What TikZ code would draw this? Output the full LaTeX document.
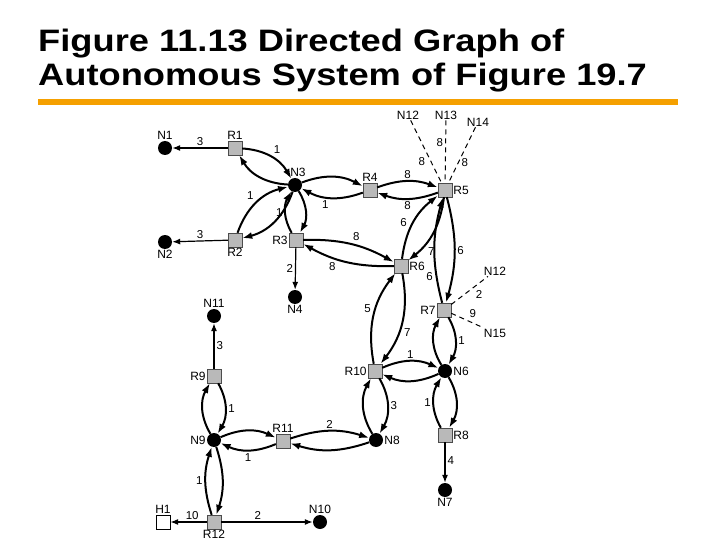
\documentclass[tikz,border=0pt]{standalone}
\usepackage{fontspec}
\setmainfont{Liberation Sans}
\usetikzlibrary{positioning,arrows.meta}
\definecolor{barorange}{RGB}{245,160,0}
\definecolor{rtrgray}{RGB}{185,185,185}

\begin{document}
\begin{tikzpicture}[x=1pt,y=-1pt,
	rtr/.style={rectangle,draw=black!70,fill=rtrgray,minimum size=14pt,inner sep=0pt}, % router
	net/.style={circle,fill=black,minimum size=14pt,inner sep=0pt}, % network
	hst/.style={rectangle,draw=black,fill=white,minimum size=14pt,inner sep=0pt}, % host
	nm/.style={font=\fontsize{12}{13}\selectfont,inner sep=1pt},
	lbl/.style={font=\fontsize{11.5}{12}\selectfont,inner sep=2pt},
	lnk/.style={-{Latex[length=10pt,width=7pt]},line width=2pt},
	one/.style={-{Latex[length=8pt,width=6pt]},line width=1.2pt},
	stub/.style={dash pattern=on 5pt off 4pt,line width=1pt},
	every label/.style={nm}]
	\useasboundingbox (0,0) rectangle (720,540);
	% Title
	\node [anchor=base west,inner sep=0pt,xscale=1.17,font=\fontsize{31}{38}\bfseries\selectfont] (ttla) at (38,52) {Figure 11.13 Directed Graph of};
	\node [anchor=base west,inner sep=0pt,xscale=1.17,font=\fontsize{31}{38}\bfseries\selectfont] (ttlb) at (38,86) {Autonomous System of Figure 19.7};
	\fill [barorange] (38,99) rectangle (678,105);
	% Routers, networks, host
	\node [net,label=above:N1] (N1) at (165,148) {};
	\node [rtr,label=above:R1] (R1) at (235,148) {};
	\node [net,label={[xshift=3pt]above:N3}] (N3) at (295,185) {};
	\node [rtr,label=above:R4] (R4) at (370,190) {};
	\node [rtr,label=right:R5] (R5) at (445,190) {};
	\node [net,label=below:N2] (N2) at (165,242) {};
	\node [rtr,label=below:R2] (R2) at (235,240) {};
	\node [rtr,label=left:R3] (R3) at (296,240) {};
	\node [net,label=below:N4] (N4) at (295,297) {};
	\node [rtr,label=right:R6] (R6) at (401,266) {};
	\node [rtr,label=left:R7] (R7) at (444,310) {};
	\node [net,label=above:N11] (N11) at (214,316) {};
	\node [rtr,label=left:R9] (R9) at (214,376) {};
	\node [rtr,label=left:R10] (R10) at (375,371) {};
	\node [net,label=right:N6] (N6) at (445,371) {};
	\node [net,label=left:N9] (N9) at (214,440) {};
	\node [rtr,label=above:R11] (R11) at (283,441) {};
	\node [net,label=right:N8] (N8) at (376,440) {};
	\node [rtr,label=right:R8] (R8) at (445,435) {};
	\node [net,label=below:N7] (N7) at (445,490) {};
	\node [hst,label=above:H1] (H1) at (163,522) {};
	\node [rtr,label=below:R12] (R12) at (214,522) {};
	\node [net,label=above:N10] (N10) at (320,522) {};
	% Outside networks
	\node [nm] (N12a) at (408,115) {N12};
	\node [nm] (N13) at (446,115) {N13};
	\node [nm] (N14) at (478,122) {N14};
	\node [nm] (N12b) at (495,271) {N12};
	\node [nm] (N15) at (495,333) {N15};
	% One-way links
	\draw [one] (R1) -- node [lbl,above] {3} (N1);
	\draw [one] (R2) -- node [lbl,above] {3} (N2);
	\draw [one] (R3) -- node [lbl,left] {2} (N4);
	\draw [one] (R8) -- node [lbl,right,pos=0.45] {4} (N7);
	\draw [one] (R9) -- node [lbl,right] {3} (N11);
	\draw [one] (R12) -- node [lbl,above,pos=0.4] {10} (H1);
	\draw [one] (R12) -- node [lbl,above,pos=0.4] {2} (N10);
	% Two-way links
	\draw [lnk] (R1) to [bend left=28] node [lbl,auto] {1} (N3);
	\draw [lnk] (N3) to [bend left=28] (R1);
	\draw [lnk] (R2) to [bend left=28] node [lbl,auto] {1} (N3);
	\draw [lnk] (N3) to [bend left=28] (R2);
	\draw [lnk] (N3) to [bend left=24] (R4);
	\draw [lnk] (R4) to [bend left=24] node [lbl,auto] {1} (N3);
	\draw [lnk] (N3) to [bend left=30] (R3);
	\draw [lnk] (R3) to [bend left=30] node [lbl,auto] {1} (N3);
	\draw [lnk] (R4) to [bend left=20] node [lbl,auto] {8} (R5);
	\draw [lnk] (R5) to [bend left=20] node [lbl,auto] {8} (R4);
	\draw [lnk] (R3) to [bend left=15] node [lbl,auto] {8} (R6);
	\draw [lnk] (R6) to [bend left=15] node [lbl,auto,pos=0.6] {8} (R3);
	\draw [lnk] (R6) to [bend left=22] node [lbl,auto,pos=0.4] {6} (R5);
	\draw [lnk] (R5) to [bend left=22] node [lbl,auto,pos=0.7] {7} (R6);
	\draw [lnk] (R5) to [bend left=15] node [lbl,auto] {6} (R7);
	\draw [lnk] (R7) to [bend left=15] node [lbl,auto,pos=0.3] {6} (R5);
	\draw [lnk] (R6) to [bend left=24] node [lbl,auto,pos=0.55] {7} (R10);
	\draw [lnk] (R10) to [bend left=24] node [lbl,auto,pos=0.5] {5} (R6);
	\draw [lnk] (R7) to [bend left=30] node [lbl,auto] {1} (N6);
	\draw [lnk] (N6) to [bend left=30] (R7);
	\draw [lnk] (R10) to [bend left=24] node [lbl,auto] {1} (N6);
	\draw [lnk] (N6) to [bend left=24] (R10);
	\draw [lnk] (R10) to [bend left=30] node [lbl,auto] {3} (N8);
	\draw [lnk] (N8) to [bend left=30] (R10);
	\draw [lnk] (N6) to [bend left=30] (R8);
	\draw [lnk] (R8) to [bend left=30] node [lbl,auto] {1} (N6);
	\draw [lnk] (R9) to [bend left=30] node [lbl,auto] {1} (N9);
	\draw [lnk] (N9) to [bend left=30] (R9);
	\draw [lnk] (N9) to [bend left=24] (R11);
	\draw [lnk] (R11) to [bend left=24] node [lbl,auto] {1} (N9);
	\draw [lnk] (R11) to [bend left=18] node [lbl,auto] {2} (N8);
	\draw [lnk] (N8) to [bend left=18] (R11);
	\draw [lnk] (N9) to [bend left=18] (R12);
	\draw [lnk] (R12) to [bend left=18] node [lbl,auto] {1} (N9);
	% Links to outside networks
	\draw [stub] (N12a) -- node [lbl,auto,swap,pos=0.55] {8} (R5);
	\draw [stub] (N13) -- node [lbl,auto,swap,pos=0.35] {8} (R5);
	\draw [stub] (N14) -- node [lbl,auto,pos=0.55,inner sep=0.5pt] {8} (R5);
	\draw [stub] (R7) -- node [lbl,auto,swap,pos=0.6] {2} (N12b);
	\draw [stub] (R7) -- node [lbl,auto,pos=0.5] {9} (N15);
\end{tikzpicture}
\end{document}
